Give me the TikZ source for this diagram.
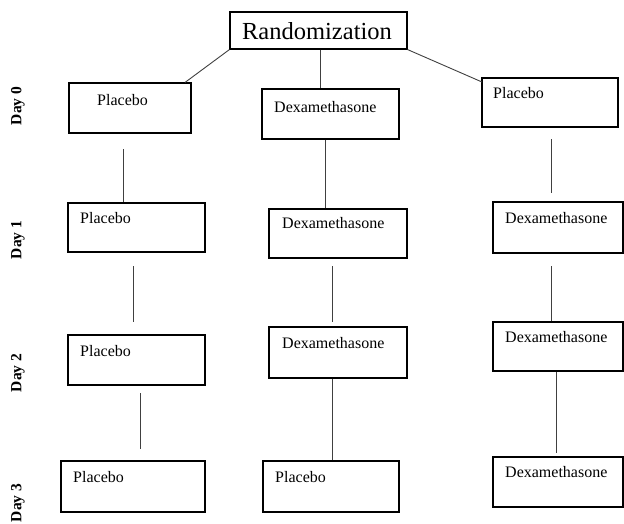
\documentclass[tikz,border=0pt]{standalone}
\usepackage{fontspec}
\setmainfont{Liberation Serif}
\usetikzlibrary{fit,calc}
\begin{document}
\begin{tikzpicture}[x=1pt,y=-1pt,
  box/.style={draw=black,line width=1.1pt,inner sep=0pt},
  lbl/.style={anchor=west,inner sep=0pt,font=\fontsize{16}{18}\selectfont},
  day/.style={rotate=90,inner sep=0pt,font=\bfseries\fontsize{15.5}{17}\selectfont},
  conn/.style={draw=black!75,line width=0.9pt}]
\useasboundingbox (0,0) rectangle (624,523);
% boxes
\node[box,fit={(230,12)(407,49)}] (R) {};
\node[inner sep=0pt,font=\fontsize{24.5}{27}\selectfont] (tR) at (317,31) {Randomization};
\node[box,fit={(69,83)(191,133)}] (L0) {};
\node[lbl] (tL0) at (97,100) {Placebo};
\node[box,fit={(262,89)(399,139)}] (M0) {};
\node[lbl] (tM0) at (274,107) {Dexamethasone};
\node[box,fit={(482,78)(618,127)}] (R0) {};
\node[lbl] (tR0) at (493,93) {Placebo};
\node[box,fit={(68,203)(205,252)}] (L1) {};
\node[lbl] (tL1) at (80,218) {Placebo};
\node[box,fit={(269,209)(407,258)}] (M1) {};
\node[lbl] (tM1) at (282,223) {Dexamethasone};
\node[box,fit={(493,202)(623,253)}] (R1) {};
\node[lbl] (tR1) at (505,218) {Dexamethasone};
\node[box,fit={(68,335)(205,385)}] (L2) {};
\node[lbl] (tL2) at (80,351) {Placebo};
\node[box,fit={(269,327)(407,378)}] (M2) {};
\node[lbl] (tM2) at (282,343) {Dexamethasone};
\node[box,fit={(493,322)(623,371)}] (R2) {};
\node[lbl] (tR2) at (505,337) {Dexamethasone};
\node[box,fit={(61,461)(205,512)}] (L3) {};
\node[lbl] (tL3) at (73,477) {Placebo};
\node[box,fit={(263,461)(399,512)}] (M3) {};
\node[lbl] (tM3) at (275,477) {Placebo};
\node[box,fit={(493,457)(623,507)}] (R3) {};
\node[lbl] (tR3) at (505,472) {Dexamethasone};
% day labels
\node[day] (d0) at (18,106) {Day 0};
\node[day] (d1) at (18,240) {Day 1};
\node[day] (d2) at (18,373) {Day 2};
\node[day] (d3) at (18,503) {Day 3};
% connector coordinates
\coordinate (xa) at (185,0);
\coordinate (xm) at (320,0);
\coordinate (rr) at (482,82);
\coordinate (a1) at (123,149);
\coordinate (b1) at (325,0);
\coordinate (c1a) at (551,139);
\coordinate (c1b) at (551,193);
\coordinate (a2a) at (133,266);
\coordinate (a2b) at (133,322);
\coordinate (b2a) at (332,266);
\coordinate (b2b) at (332,322);
\coordinate (c2) at (551,266);
\coordinate (a3a) at (140,393);
\coordinate (a3b) at (140,449);
\coordinate (b3) at (332,0);
\coordinate (c3) at (556,0);
\coordinate (c3b) at (556,453);
% connectors
\draw[conn] (R.south west) -- (xa |- L0.north);
\draw[conn] (xm |- R.south) -- (xm |- M0.north);
\draw[conn] (R.south east) -- (rr);
\draw[conn] (a1) -- (a1 |- L1.north);
\draw[conn] (b1 |- M0.south) -- (b1 |- M1.north);
\draw[conn] (c1a) -- (c1b);
\draw[conn] (a2a) -- (a2b);
\draw[conn] (b2a) -- (b2b);
\draw[conn] (c2) -- (c2 |- R2.north);
\draw[conn] (a3a) -- (a3b);
\draw[conn] (b3 |- M2.south) -- (b3 |- M3.north);
\draw[conn] (c3 |- R2.south) -- (c3b);
\end{tikzpicture}
\end{document}
